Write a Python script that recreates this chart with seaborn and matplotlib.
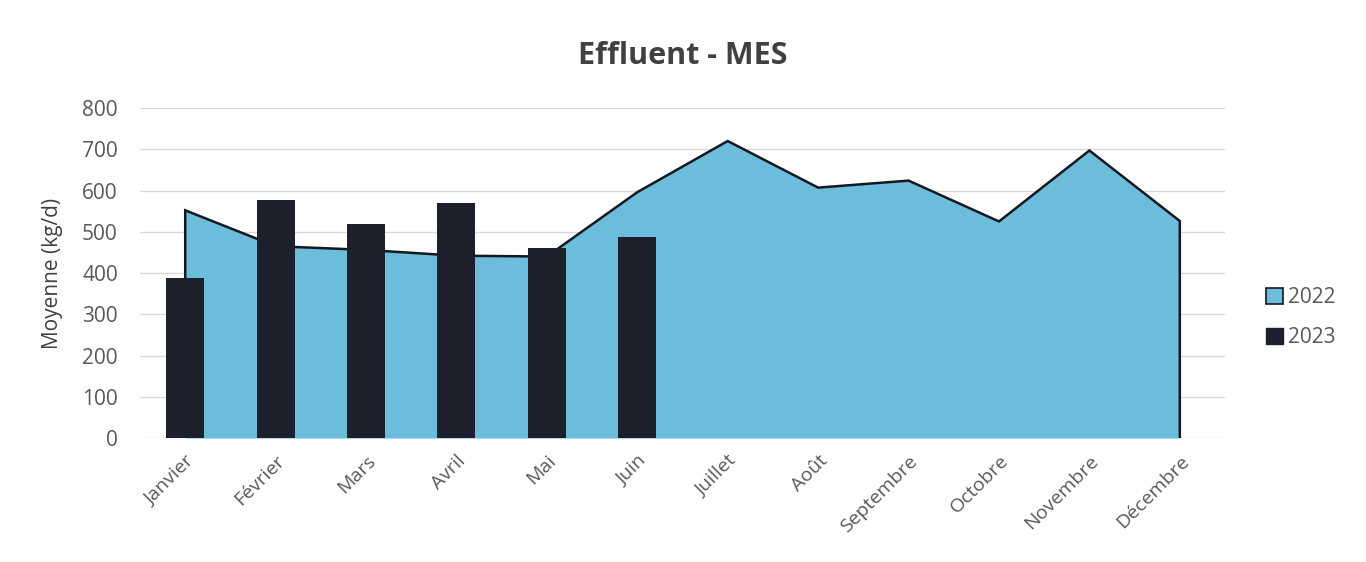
import numpy as np
import matplotlib
matplotlib.use("Agg")
import matplotlib.pyplot as plt
from matplotlib.patches import Patch
import pandas as pd
import seaborn as sns

mois = ["Janvier", "Février", "Mars", "Avril", "Mai", "Juin", "Juillet",
        "Août", "Septembre", "Octobre", "Novembre", "Décembre"]
mes_2022 = [552, 465, 456, 442, 440, 596, 720, 607, 624, 525, 697, 526]
mes_2023 = [388, 578, 520, 570, 460, 488]
annees = ["2022", "2023"]

bleu = "#6cbcdc"
marine = "#1d202c"
gris = "#595959"

sns.set_style("white")
plt.rcParams["font.family"] = ["Open Sans", "DejaVu Sans"]

fig = plt.figure(figsize=(13.66, 5.62), dpi=100)
ax = fig.add_axes([0.1025, 0.2206, 0.7943, 0.5872])

# 2022 en aire
x = np.arange(len(mois))
ax.fill_between(x, mes_2022, 0, color=bleu, lw=0, zorder=1)
ax.plot(np.r_[x[0], x, x[-1]], np.r_[0, mes_2022, 0], color="#141820",
        lw=1.8, zorder=2, solid_joinstyle="miter")

# 2023 en barres
df = pd.DataFrame({"mois": mois[:len(mes_2023)], "val": mes_2023})
sns.barplot(data=df, x="mois", y="val", order=mois, color=marine,
            saturation=1, width=0.42, ax=ax, zorder=3,
            edgecolor=marine, linewidth=0)

ax.set_xlim(-0.5, len(mois) - 0.5)
ax.set_ylim(0, 800)
ax.set_yticks(range(0, 801, 100))
ax.grid(axis="y", color="#d9d9d9", lw=1)
ax.set_axisbelow(True)
for s in ax.spines.values():
    s.set_visible(False)

ax.set_xlabel("")
ax.set_ylabel("Moyenne (kg/d)", fontsize=15, color="#404040", labelpad=14)
ax.set_xticks(x)
ax.set_xticklabels(mois, rotation=45, ha="right", rotation_mode="anchor",
                   fontsize=14, color=gris)
ax.tick_params(axis="y", labelsize=15, labelcolor=gris, length=0, pad=16)
ax.tick_params(axis="x", length=0, pad=10)

fig.text(0.5, 0.9, "Effluent - MES", ha="center", va="center",
         fontsize=22, fontweight="bold", color="#404040")

handles = [Patch(facecolor=bleu, edgecolor="#141820", lw=1.2),
           Patch(facecolor=marine, edgecolor=marine)]
fig.legend(handles, annees, loc="center left", bbox_to_anchor=(0.913, 0.435),
           frameon=False, fontsize=15, handlelength=0.8, handleheight=0.8,
           handletextpad=0.25, labelspacing=0.9, labelcolor=gris)

fig.savefig("out.png", dpi=100)
